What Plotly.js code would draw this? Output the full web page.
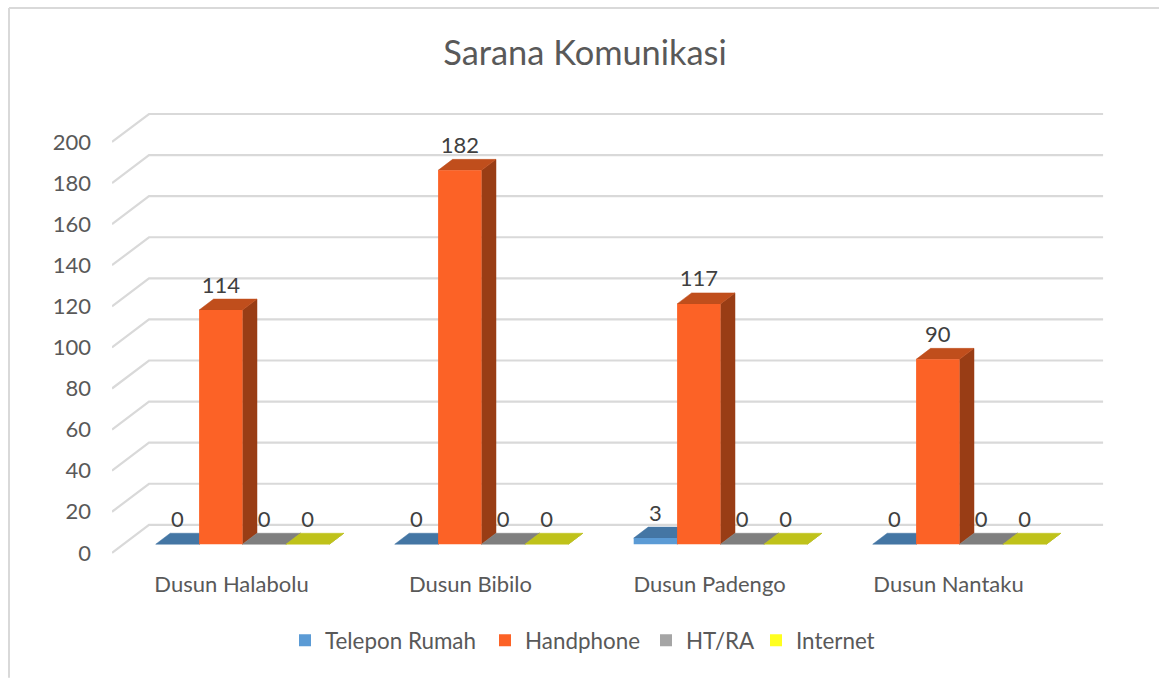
<!DOCTYPE html>
<html><head><meta charset="utf-8">
<script src="https://cdn.plot.ly/plotly-3.0.1.min.js"></script>
<style>html,body{margin:0;padding:0;background:#fff}#c{width:1159px;height:678px}</style>
</head><body><div id="c"></div>
<script>
const categories = ["Dusun Halabolu","Dusun Bibilo","Dusun Padengo","Dusun Nantaku"];
const telepon = [0,0,3,0];
const handphone = [114,182,117,90];
const htra = [0,0,0,0];
const internet = [0,0,0,0];
const yTicks = [0,20,40,60,80,100,120,140,160,180,200];
const names = ["Telepon Rumah","Handphone","HT/RA","Internet"];
const values = [telepon,handphone,htra,internet];
const frontCol = ["#5B9BD5","#FC6226","#A5A5A5","#FFFF1F"];
const topCol = ["#4476A4","#C04E1C","#7F7F7F","#BFC21A"];
const sideCol = ["#3F6E99","#993D15","#6E6E6E","#A6A816"];

const W=1159,H=678,L=112,R=54,T=108,yUnit=2.055,xUnit=239;
const yRange=[-3,(553-T)/yUnit], xRange=[-0.5,-0.5+(W-L-R)/xUnit];
const plotH=(yRange[1]-yRange[0])*yUnit, B=H-T-plotH, plotW=W-L-R;
const px=x=>(x-L)/plotW, py=y=>(T+plotH-y)/plotH;
// 3-D projection offsets in axis units
const gridDx=37/xUnit, gridDy=28/yUnit, baseDx=11/xUnit, base=8.6/yUnit,
      barW=43.4/xUnit, barDx=14.5/xUnit, barDy=11/yUnit, labelGap=23/yUnit;

const traces=[];
const gx=[],gy=[];
yTicks.forEach(t=>{gx.push(-0.5,-0.5+gridDx,3.5+gridDx-0.008,null);gy.push(t,t+gridDy,t+gridDy,null);});
traces.push({x:gx,y:gy,mode:'lines',line:{color:'#D9D9D9',width:2.2},showlegend:false,hoverinfo:'skip',cliponaxis:false});

values.forEach((vals,s)=>{
  const tx=[],ty=[],sx=[],sy=[];
  vals.forEach((v,g)=>{
    const x0=g+baseDx+(s-2)*barW,x1=x0+barW,y=base+v;
    tx.push(x0,x0+barDx,x1+barDx,x1,x0,null);ty.push(y,y+barDy,y+barDy,y,y,null);
    sx.push(x1,x1+barDx,x1+barDx,x1,x1,null);sy.push(base,base+barDy,y+barDy,y,base,null);
  });
  [[sx,sy,sideCol[s]],[tx,ty,topCol[s]]].forEach(f=>traces.push({x:f[0],y:f[1],mode:'lines',fill:'toself',fillcolor:f[2],line:{color:f[2],width:0.5},showlegend:false,hoverinfo:'skip'}));
});

const legendTextX=[285,485,646,756];
const legends={};
values.forEach((vals,s)=>{
  const key=s?('legend'+(s+1)):'legend';
  traces.push({type:'bar',name:names[s],x:vals.map((v,g)=>g+baseDx+(s-1.5)*barW),y:vals,base:vals.map(()=>base),width:vals.map(()=>barW),
    marker:{color:frontCol[s],line:{width:0}},xaxis:'x2',yaxis:'y2',legend:key,hoverinfo:'x+y'});
  legends[key]={x:px(legendTextX[s]),y:py(641),xanchor:'left',yanchor:'middle',bgcolor:'rgba(0,0,0,0)',borderwidth:0,font:{family:'Lato',size:22.4,color:'#595959'}};
  traces.push({x:vals.map((v,g)=>g+baseDx+(s-1.5)*barW),y:vals.map(v=>base+v+labelGap),text:vals.map(String),mode:'text',textposition:'middle center',
    textfont:{family:'Lato',size:22,color:'#404040'},xaxis:'x2',yaxis:'y2',showlegend:false,hoverinfo:'skip',cliponaxis:false});
});

const line=(x0,y0,x1,y1)=>({type:'line',xref:'paper',yref:'paper',x0:px(x0),y0:py(y0),x1:px(x1),y1:py(y1),line:{color:'#D9D9D9',width:2},layer:'below'});
const layout={
  width:W,height:H,margin:{l:L,r:R,t:T,b:B,pad:0},paper_bgcolor:'#fff',plot_bgcolor:'rgba(0,0,0,0)',
  barmode:'overlay',
  title:{text:'Sarana Komunikasi',x:585/W,xanchor:'center',y:1-53/H,yanchor:'middle',font:{family:'Lato',size:34.4,color:'#595959'}},
  xaxis:{range:xRange,tickmode:'array',tickvals:[0,1,2,3],ticktext:categories,showgrid:false,zeroline:false,showline:false,ticks:'',ticklabelstandoff:10,tickfont:{family:'Lato',size:22,color:'#595959'}},
  yaxis:{range:yRange,tickmode:'array',tickvals:yTicks,ticktext:yTicks.map(String),showgrid:false,zeroline:false,showline:false,ticks:'',ticklabelstandoff:20,tickfont:{family:'Lato',size:22,color:'#595959'}},
  xaxis2:{range:xRange,overlaying:'x',visible:false},
  yaxis2:{range:yRange,overlaying:'y',visible:false},
  shapes:[line(9,8,9,H),line(9,8,W,8)],
  ...legends
};
Plotly.newPlot('c',traces,layout,{displayModeBar:false});
</script></body></html>
